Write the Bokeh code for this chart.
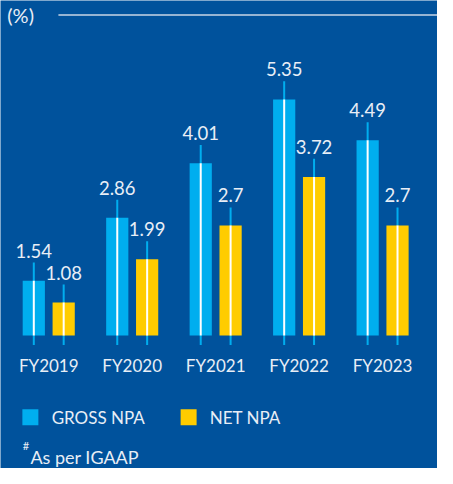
from bokeh.plotting import figure
from bokeh.models import FactorRange, Range1d, ColumnDataSource
from bokeh.transform import dodge
from bokeh.core.properties import value
from bokeh.embed import file_html
from bokeh.resources import INLINE

years = ["FY2019", "FY2020", "FY2021", "FY2022", "FY2023"]
gross_npa = [1.54, 2.86, 4.01, 5.35, 4.49]
net_npa = [1.08, 1.99, 2.7, 3.72, 2.7]
gross_labels = ["1.54", "2.86", "4.01", "5.35", "4.49"]
net_labels = ["1.08", "1.99", "2.7", "3.72", "2.7"]
series_names = ["GROSS NPA", "NET NPA"]

BG = "#00529c"
BLUE = "#00aeef"
YELLOW = "#ffcc00"
TXT = "#e8eef6"
FONT = value("Lato")

BASE = 0.386          # value at the drawn baseline
TICK_BELOW = 0.20     # stem below baseline
STEM_ABOVE = 0.38     # stem above bar top
LABEL_OFF = 0.63      # label baseline above bar top
YEAR_Y = -0.254
SHIFT = -0.040        # horizontal shift of all groups
OFF = 0.179           # half distance between paired bars
W = 0.266             # bar width

p = figure(width=437, height=468, output_backend="svg", toolbar_location=None,
           x_range=FactorRange(factors=years, range_padding=0.0472),
           y_range=Range1d(-2.409, 7.429),
           x_axis_location=None, y_axis_location=None,
           min_border_left=0, min_border_right=0, min_border_top=0, min_border_bottom=0)
p.background_fill_color = BG
p.border_fill_color = BG
p.outline_line_color = None
p.xgrid.visible = False
p.ygrid.visible = False

src = ColumnDataSource(dict(
    year=years, gross=gross_npa, net=net_npa,
    gross_lab=gross_labels, net_lab=net_labels,
    gross_top=[v + STEM_ABOVE for v in gross_npa],
    net_top=[v + STEM_ABOVE for v in net_npa],
    gross_ly=[v + LABEL_OFF for v in gross_npa],
    net_ly=[v + LABEL_OFF for v in net_npa],
    base=[BASE] * len(years), low=[BASE - TICK_BELOW] * len(years),
    year_y=[YEAR_Y] * len(years),
))

for key, off, col in (("gross", -OFF, BLUE), ("net", OFF, YELLOW)):
    xd = dodge("year", off + SHIFT, range=p.x_range)
    p.segment(x0=xd, x1=xd, y0="low", y1=key + "_top", source=src,
              line_color=BLUE, line_width=2)
    p.vbar(x=xd, top=key, bottom="base", width=W, source=src,
           fill_color=col, line_color=None)
    p.segment(x0=xd, x1=xd, y0="base", y1=key, source=src,
              line_color="white", line_width=2)
    p.text(x=xd, y=key + "_ly", text=key + "_lab", source=src,
           text_align="center", text_baseline="alphabetic",
           text_color=TXT, text_font=FONT, text_font_size="18.5px")

p.text(x=dodge("year", SHIFT, range=p.x_range), y="year_y", text="year", source=src,
       text_align="center", text_baseline="middle",
       text_color=TXT, text_font=FONT, text_font_size="17px")

# header
hp = p.text(x=[-0.037], y=[7.124], text=["(%)"], text_align="left", text_baseline="middle",
            text_color=TXT, text_font=FONT, text_font_size="20px")
hp.level = "overlay"
hl = p.segment(x0=[0.576], x1=[5.118], y0=[7.124], y1=[7.124],
               line_color="#c9d6e6", line_width=1.5)
hl.level = "overlay"

# legend
p.scatter(x=[0.240, 2.136], y=[-1.331, -1.331], marker="square", size=16,
          fill_color=[BLUE, YELLOW], line_color=None)
p.text(x=[0.495, 2.390], y=[-1.331, -1.331], text=series_names,
       text_align="left", text_baseline="middle",
       text_color=TXT, text_font=FONT, text_font_size="17px")

# footnote
f1 = p.text(x=[0.148], y=[-1.93], text=["#"], text_align="left", text_baseline="middle",
            text_color=TXT, text_font=FONT, text_font_size="11px")
f2 = p.text(x=[0.240], y=[-2.17], text=["As per IGAAP"], text_align="left",
            text_baseline="alphabetic", text_color=TXT, text_font=FONT, text_font_size="18px")
f1.level = "overlay"
f2.level = "overlay"

open("out.html", "w").write(file_html(p, INLINE))
